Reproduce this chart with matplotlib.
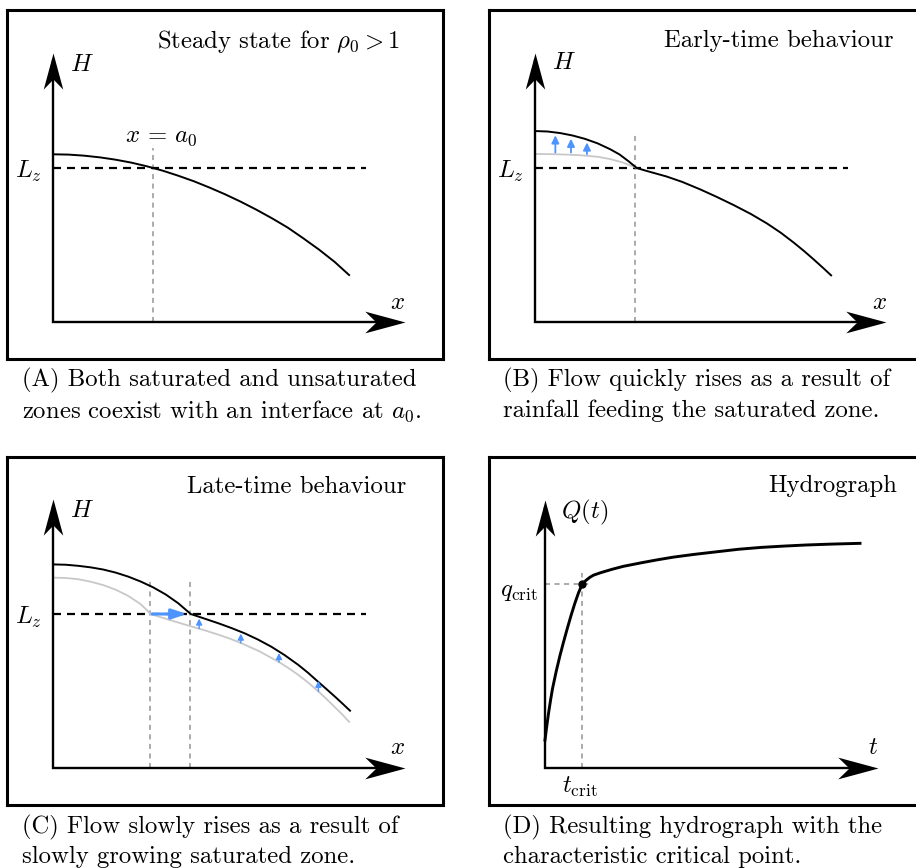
import numpy as np
import matplotlib.pyplot as plt
from matplotlib.path import Path

plt.rcParams['font.family'] = 'serif'
plt.rcParams['font.serif'] = ['cmr10']
plt.rcParams['mathtext.fontset'] = 'cm'
plt.rcParams['axes.unicode_minus'] = False

# --- schematic profiles (x and H scaled so that L_z = 1) ---
Lz = 1.0

# (A) steady state
x_a = [0, 0.05, 0.10, 0.15, 0.20, 0.25, 0.30, 0.35, 0.40, 0.45, 0.50,
       0.55, 0.60, 0.65, 0.70, 0.75, 0.80, 0.85, 0.90, 0.946]
h_a = [1.089, 1.087, 1.080, 1.069, 1.054, 1.035, 1.011, 0.983, 0.950, 0.914, 0.873,
       0.829, 0.781, 0.729, 0.673, 0.613, 0.543, 0.470, 0.390, 0.305]
a0 = 0.32

# (B) early time: new profile (black) and initial profile (grey)
x_b = [0, 0.04, 0.08, 0.12, 0.16, 0.20, 0.24, 0.27, 0.30, 0.325, 0.36, 0.42, 0.47,
       0.528, 0.58, 0.635, 0.69, 0.741, 0.785, 0.827, 0.86, 0.89, 0.92, 0.946]
h_b = [1.240, 1.237, 1.227, 1.211, 1.189, 1.160, 1.122, 1.088, 1.042, 1.000, 0.979, 0.945, 0.910,
       0.861, 0.813, 0.759, 0.701, 0.640, 0.580, 0.515, 0.460, 0.407, 0.352, 0.303]
x_b0 = [0, 0.05, 0.10, 0.15, 0.20, 0.24, 0.28, 0.325]
h_b0 = [1.091, 1.090, 1.087, 1.082, 1.073, 1.058, 1.036, 1.000]
b_arrow_x = [0.065, 0.115, 0.166]
b_arrow_from = [1.100, 1.100, 1.090]
b_arrow_to = [1.212, 1.190, 1.166]
b_front = 0.319

# (C) late time
x_c = [0, 0.04, 0.08, 0.12, 0.16, 0.20, 0.24, 0.28, 0.32, 0.36, 0.40, 0.44, 0.49, 0.528,
       0.57, 0.613, 0.655, 0.698, 0.74, 0.784, 0.815, 0.847, 0.875, 0.901, 0.925, 0.949]
h_c = [1.322, 1.320, 1.313, 1.303, 1.289, 1.269, 1.243, 1.211, 1.173, 1.127, 1.070, 1.000, 0.966, 0.940,
       0.909, 0.874, 0.834, 0.787, 0.733, 0.669, 0.618, 0.560, 0.510, 0.463, 0.418, 0.372]
x_c0 = [0, 0.04, 0.08, 0.12, 0.16, 0.20, 0.24, 0.28, 0.30, 0.311, 0.37, 0.437, 0.48, 0.528,
        0.565, 0.60, 0.66, 0.722, 0.75, 0.78, 0.815, 0.848, 0.875, 0.90, 0.925, 0.946]
h_c0 = [1.236, 1.234, 1.226, 1.210, 1.188, 1.158, 1.118, 1.064, 1.025, 1.000, 0.963, 0.922, 0.897, 0.866,
        0.840, 0.812, 0.757, 0.688, 0.652, 0.610, 0.555, 0.497, 0.446, 0.396, 0.346, 0.300]
c_arrow_x = [0.467, 0.600, 0.722, 0.848]
c_arrow_from = [0.906, 0.812, 0.688, 0.497]
c_arrow_to = [0.970, 0.872, 0.746, 0.566]
c_front_old = 0.311
c_front_new = 0.439

# (D) hydrograph, t scaled by t_crit and Q by q_crit
t_d = [0, 0.05, 0.10, 0.15, 0.20, 0.30, 0.40, 0.50, 0.60, 0.70, 0.80, 0.90, 1.0,
       1.1, 1.2, 1.3, 1.5, 1.8, 2.1, 2.6, 3.0, 3.44, 4.0, 4.6, 5.2, 5.8, 6.4, 7.0, 7.7, 8.445]
q_d = [0.152, 0.232, 0.305, 0.370, 0.430, 0.525, 0.610, 0.687, 0.760, 0.830, 0.895, 0.953, 1.0,
       1.020, 1.036, 1.048, 1.062, 1.080, 1.096, 1.116, 1.131, 1.146, 1.161, 1.175, 1.189, 1.199,
       1.206, 1.212, 1.217, 1.221]
t_crit = 1.0
q_crit = 1.0

blue = '#4d94ff'
grey_line = '#c8c8c8'
grey_dot = '#ababab'
FS = 17.8

W, H = 916, 868
fig = plt.figure(figsize=(W / 100, H / 100), dpi=100)


def make_panel(left, top, width, height, ox, oy, sx, sy):
    # box in pixels, origin of the drawn axes in pixels, pixels per unit
    ax = fig.add_axes([left / W, 1 - (top + height) / H, width / W, height / H])
    ax.set_xlim((left - ox) / sx, (left + width - ox) / sx)
    ax.set_ylim((oy - (top + height)) / sy, (oy - top) / sy)
    ax.set_xticks([])
    ax.set_yticks([])
    for s in ax.spines.values():
        s.set_linewidth(2.2)
    return ax


head_x = Path([(0, 0), (-1, 0.27), (-0.72, 0), (-1, -0.27), (0, 0)],
              [Path.MOVETO, Path.LINETO, Path.LINETO, Path.LINETO, Path.CLOSEPOLY])
head_y = Path([(0, 0), (0.27, -1), (0, -0.72), (-0.27, -1), (0, 0)],
              [Path.MOVETO, Path.LINETO, Path.LINETO, Path.LINETO, Path.CLOSEPOLY])


def draw_axes(ax, xtip, ytip):
    ax.plot([xtip * 0.97, 0, 0], [0, 0, ytip * 0.97], color='k', lw=1.7,
            solid_joinstyle='miter', zorder=3)
    ax.plot([xtip], [0], marker=head_x, ms=58, color='k', mew=0, zorder=4, clip_on=False)
    ax.plot([0], [ytip], marker=head_y, ms=52, color='k', mew=0, zorder=4, clip_on=False)


def lz_line(ax):
    ax.plot([0, 1.0], [Lz, Lz], color='k', lw=1.6, dashes=(3.6, 2.7))
    ax.text(-0.035, Lz - 0.02, '$L_z$', fontsize=FS, ha='right', va='center')


def vline(ax, x, top):
    ax.plot([x, x], [0, top], color=grey_dot, lw=1.4, dashes=(2.6, 2.3), zorder=1)


def up_arrows(ax, xs, frm, to, lw, head):
    for x, a, b in zip(xs, frm, to):
        ax.annotate('', xy=(x, b), xytext=(x, a),
                    arrowprops=dict(arrowstyle='-|>,head_length=%.2f,head_width=%.2f' % head,
                                    color=blue, lw=lw, shrinkA=0, shrinkB=0,
                                    mutation_scale=10))


# (A)
ax = make_panel(7, 10, 436, 349, 53, 322, 313, 154)
draw_axes(ax, 1.125, 1.747)
lz_line(ax)
vline(ax, a0, 1.13)
ax.plot(x_a, h_a, color='k', lw=1.4, zorder=2)
ax.text(0.093, 1.669, '$H$', fontsize=FS, ha='center', va='center')
ax.text(1.102, 0.123, '$x$', fontsize=FS, ha='center', va='center')
ax.text(0.345, 1.20, r'$x\,=\,a_0$', fontsize=FS, ha='center', va='center')
ax.text(0.901, 0.911, r'Steady state for $\rho_0 > 1$', fontsize=FS,
        ha='right', va='center', transform=ax.transAxes)

# (B)
ax = make_panel(489, 10, 436, 349, 535, 322, 313, 154)
draw_axes(ax, 1.121, 1.747)
lz_line(ax)
vline(ax, b_front, 1.214)
ax.plot(x_b0, h_b0, color=grey_line, lw=1.3, zorder=2)
ax.plot(x_b, h_b, color='k', lw=1.4, zorder=2)
up_arrows(ax, b_arrow_x, b_arrow_from, b_arrow_to, 1.3, (0.45, 0.22))
ax.text(0.093, 1.682, '$H$', fontsize=FS, ha='center', va='center')
ax.text(1.102, 0.123, '$x$', fontsize=FS, ha='center', va='center')
ax.text(0.927, 0.911, 'Early-time behaviour', fontsize=FS,
        ha='right', va='center', transform=ax.transAxes)

# (C)
ax = make_panel(7, 457, 436, 348, 53, 768, 313, 154)
draw_axes(ax, 1.125, 1.747)
lz_line(ax)
vline(ax, c_front_old, 1.214)
vline(ax, c_front_new, 1.214)
ax.plot(x_c0, h_c0, color=grey_line, lw=1.3, zorder=2)
ax.plot(x_c, h_c, color='k', lw=1.4, zorder=2)
up_arrows(ax, c_arrow_x, c_arrow_from, c_arrow_to, 1.0, (0.35, 0.18))
ax.annotate('', xy=(0.428, Lz), xytext=(0.317, Lz),
            arrowprops=dict(arrowstyle='-|>,head_length=0.9,head_width=0.3',
                            color=blue, lw=2.2, shrinkA=0, shrinkB=0,
                            mutation_scale=10), zorder=5)
ax.text(0.093, 1.669, '$H$', fontsize=FS, ha='center', va='center')
ax.text(1.102, 0.130, '$x$', fontsize=FS, ha='center', va='center')
ax.text(0.915, 0.914, 'Late-time behaviour', fontsize=FS,
        ha='right', va='center', transform=ax.transAxes)

# (D)
ax = make_panel(489, 457, 436, 348, 545, 768, 37.3, 184)
draw_axes(ax, 8.93, 1.457)
ax.plot([0, 1.26], [q_crit, q_crit], color=grey_dot, lw=1.4, dashes=(2.6, 2.3), zorder=1)
ax.plot([t_crit, t_crit], [0, 1.061], color=grey_dot, lw=1.4, dashes=(2.6, 2.3), zorder=1)
ax.plot(t_d, q_d, color='k', lw=2.1, zorder=2)
ax.plot([t_crit], [q_crit], 'o', color='k', ms=5, zorder=3)
ax.text(1.07, 1.391, '$Q(t)$', fontsize=FS, ha='center', va='center')
ax.text(-0.19, 0.957, r'$q_{\mathrm{crit}}$', fontsize=FS, ha='right', va='center')
ax.text(0.94, -0.103, r'$t_{\mathrm{crit}}$', fontsize=FS, ha='center', va='center')
ax.text(8.79, 0.109, '$t$', fontsize=FS, ha='center', va='center')
ax.text(0.936, 0.917, 'Hydrograph', fontsize=FS,
        ha='right', va='center', transform=ax.transAxes)

# captions
captions = [
    (22, 380, '(A) Both saturated and unsaturated'),
    (22, 411, r'zones coexist with an interface at $a_0$.'),
    (503, 380, '(B) Flow quickly rises as a result of'),
    (503, 411, 'rainfall feeding the saturated zone.'),
    (22, 827, '(C) Flow slowly rises as a result of'),
    (22, 857, 'slowly growing saturated zone.'),
    (503, 827, '(D) Resulting hydrograph with the'),
    (503, 857, 'characteristic critical point.'),
]
for cx, cy, txt in captions:
    fig.text(cx / W, 1 - cy / H, txt, fontsize=FS, ha='left', va='center')

fig.savefig('out.png', dpi=100)
